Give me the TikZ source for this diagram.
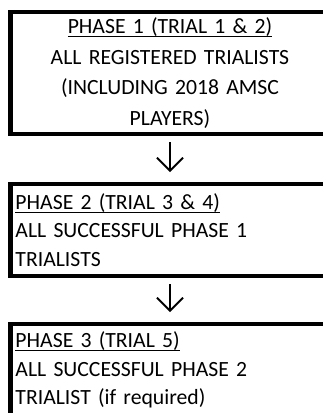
\documentclass[tikz,border=0pt]{standalone}
\usepackage{fontspec}
\setmainfont{Carlito}
\usetikzlibrary{arrows.meta}
\newsavebox{\titlebox}
\newcommand{\phasetitle}[1]{\sbox{\titlebox}{#1}\rlap{\rule[-3.8pt]{\wd\titlebox}{1.5pt}}\usebox{\titlebox}}

\begin{document}
\begin{tikzpicture}[x=1pt,y=-1pt,
        phase/.style={draw,line width=4.5pt,outer sep=0pt,anchor=north west,
            minimum width=319pt,inner xsep=5pt,inner ysep=0pt,text width=309pt},
        down/.style={-{Straight Barb[length=13pt,width=26pt]},line width=1.8pt,
            shorten <=8pt,shorten >=12pt}]
    \useasboundingbox (0,0) rectangle (323,413);
    \clip (0,0) rectangle (323,413);
    \node[phase,align=center,minimum height=122pt,font=\fontsize{21.7}{30.7}\selectfont] (p1) at (10.5,12)
        {\phasetitle{PHASE 1 (TRIAL 1 \& 2)}\\ALL REGISTERED TRIALISTS\\(INCLUDING 2018 AMSC\\PLAYERS)};
    \node[phase,align=left,minimum height=92pt,font=\fontsize{21.7}{28.5}\selectfont] (p2) at (10.5,184)
        {\phasetitle{PHASE 2 (TRIAL 3 \& 4)}\\ALL SUCCESSFUL PHASE 1\\TRIALISTS};
    \node[phase,align=left,minimum height=92pt,font=\fontsize{21.7}{28.5}\selectfont] (p3) at (10.5,324)
        {\phasetitle{PHASE 3 (TRIAL 5)}\\ALL SUCCESSFUL PHASE 2\\TRIALIST (if required)};
    \draw[down] (p1) -- (p2);
    \draw[down] (p2) -- (p3);
\end{tikzpicture}
\end{document}
